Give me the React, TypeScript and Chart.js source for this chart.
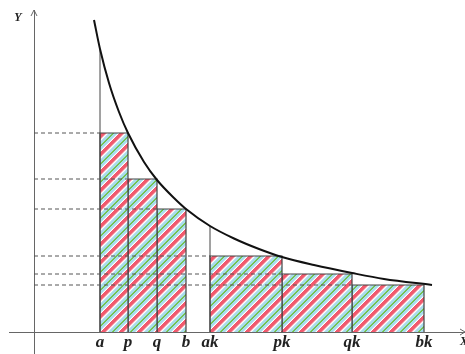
import React, { useEffect, useRef } from 'react';
import { Chart, registerables } from 'chart.js';

Chart.register(...registerables);

// Tick positions on the x axis and their labels
const X_TICKS = [6.6, 9.4, 12.3, 15.2, 17.6, 24.8, 31.8, 39.0];
const X_LABELS = ['a', 'p', 'q', 'b', 'ak', 'pk', 'qk', 'bk'];

// Rectangles (left edge, right edge, height)
const RECT_LEFT = [6.6, 9.4, 12.3, 17.6, 24.8, 31.8];
const RECT_RIGHT = [9.4, 12.3, 15.2, 24.8, 31.8, 39.0];
const RECT_HEIGHT = [19.9, 15.3, 12.3, 7.6, 5.8, 4.7];

// Curve points
const CURVE_X = [6.0, 6.6, 7.5, 8.5, 9.4, 11.0, 12.3, 14.0, 15.2, 17.6, 20.0, 22.5, 24.8, 28.0, 31.8, 35.0, 39.8];
const CURVE_Y = [31.2, 28.3, 24.9, 22.0, 19.9, 17.0, 15.2, 13.4, 12.3, 10.6, 9.35, 8.3, 7.5, 6.7, 5.9, 5.3, 4.7];

// Vertical guide lines from the axis up to the curve
const GUIDE_X = [6.6, 17.6];
const GUIDE_TOP = [28.3, 10.6];

const FONT = '"Liberation Serif", "DejaVu Serif", serif';

function makePattern(): CanvasPattern | string {
  const colors = [
    '#f05a6e', '#f05a6e', '#f05a6e', '#f05a6e', '#f27a8a', '#fbd3d8', '#ffffff',
    '#bfe6f1', '#a8dcec', '#a8dcec', '#a8dcec', '#7cc65a', '#6dc04b', '#a8dcec',
    '#a8dcec', '#a8dcec', '#c9eaf3', '#ffffff',
  ];
  const size = colors.length;
  const c = document.createElement('canvas');
  c.width = size;
  c.height = size;
  const ctx = c.getContext('2d');
  if (!ctx) return '#a8dcec';
  for (let y = 0; y < size; y++) {
    for (let x = 0; x < size; x++) {
      ctx.fillStyle = colors[(x + y) % size];
      ctx.fillRect(x, y, 1, 1);
    }
  }
  return ctx.createPattern(c, 'repeat') || '#a8dcec';
}

const overlay = {
  id: 'overlay',
  afterDraw(chart: any) {
    const ctx = chart.ctx;
    const xs = chart.scales.x;
    const ys = chart.scales.y;
    const x0 = xs.getPixelForValue(0);
    const y0 = ys.getPixelForValue(0);
    const { top, right } = chart.chartArea;
    ctx.save();
    ctx.strokeStyle = '#666';
    ctx.lineWidth = 1;
    ctx.beginPath();
    ctx.moveTo(x0 - 3, top + 6);
    ctx.lineTo(x0, top);
    ctx.lineTo(x0 + 3, top + 6);
    ctx.moveTo(right - 5, y0 - 3);
    ctx.lineTo(right, y0);
    ctx.lineTo(right - 5, y0 + 3);
    ctx.stroke();
    ctx.fillStyle = '#222';
    ctx.font = `italic bold 12px ${FONT}`;
    ctx.textAlign = 'center';
    ctx.textBaseline = 'alphabetic';
    ctx.fillText('Y', x0 - 16, top + 11);
    ctx.textAlign = 'left';
    ctx.fillText('X', right - 5, y0 + 13);
    ctx.restore();
  },
};

export default function App() {
  const ref = useRef<HTMLCanvasElement | null>(null);

  useEffect(() => {
    document.body.style.margin = '0';
    const canvas = ref.current;
    if (!canvas) return;
    const pattern = makePattern();

    const datasets: any[] = [];
    // curve on top
    datasets.push({
      data: CURVE_X.map((x, i) => ({ x, y: CURVE_Y[i] })),
      borderColor: '#111',
      borderWidth: 2,
      pointRadius: 0,
      fill: false,
      cubicInterpolationMode: 'monotone',
      order: 0,
    });
    // dashed level lines
    RECT_LEFT.forEach((l, i) => {
      datasets.push({
        data: [{ x: 0, y: RECT_HEIGHT[i] }, { x: l, y: RECT_HEIGHT[i] }],
        borderColor: '#555',
        borderWidth: 1,
        borderDash: [4, 3],
        pointRadius: 0,
        fill: false,
        order: 1,
      });
    });
    // guide lines
    GUIDE_X.forEach((g, i) => {
      datasets.push({
        data: [{ x: g, y: 0 }, { x: g, y: GUIDE_TOP[i] }],
        borderColor: '#444',
        borderWidth: 1,
        pointRadius: 0,
        fill: false,
        order: 2,
      });
    });
    // rectangles
    RECT_LEFT.forEach((l, i) => {
      const r = RECT_RIGHT[i];
      const h = RECT_HEIGHT[i];
      datasets.push({
        data: [{ x: l, y: 0 }, { x: l, y: h }, { x: r, y: h }, { x: r, y: 0 }],
        borderColor: '#444',
        borderWidth: 1.2,
        backgroundColor: pattern,
        pointRadius: 0,
        fill: 'origin',
        order: 3,
      });
    });

    const chart = new Chart(canvas, {
      type: 'line',
      data: { datasets },
      options: {
        animation: false,
        responsive: false,
        events: [],
        layout: { padding: { left: 9, right: 0, top: 10, bottom: 0 } },
        plugins: { legend: { display: false }, tooltip: { enabled: false } },
        scales: {
          x: {
            type: 'linear',
            min: -2.5,
            max: 43.1,
            position: { y: 0 } as any,
            grid: { display: false, drawTicks: false },
            border: { display: true, color: '#666', width: 1 },
            afterBuildTicks: (axis: any) => {
              axis.ticks = X_TICKS.map((v) => ({ value: v }));
            },
            ticks: {
              autoSkip: false,
              maxRotation: 0,
              padding: 0,
              color: '#222',
              font: { family: FONT, size: 17, style: 'italic', weight: 'bold' },
              callback: (_v: any, i: number) => X_LABELS[i],
            },
          },
          y: {
            type: 'linear',
            min: -2.2,
            max: 32.2,
            position: { x: 0 } as any,
            grid: { display: false, drawTicks: false },
            border: { display: true, color: '#666', width: 1 },
            ticks: { display: false },
          },
        },
      },
      plugins: [overlay],
    });
    return () => chart.destroy();
  }, []);

  return (
    <div style={{ width: 465, height: 354 }}>
      <canvas ref={ref} width={465} height={354} style={{ display: 'block' }} />
    </div>
  );
}
